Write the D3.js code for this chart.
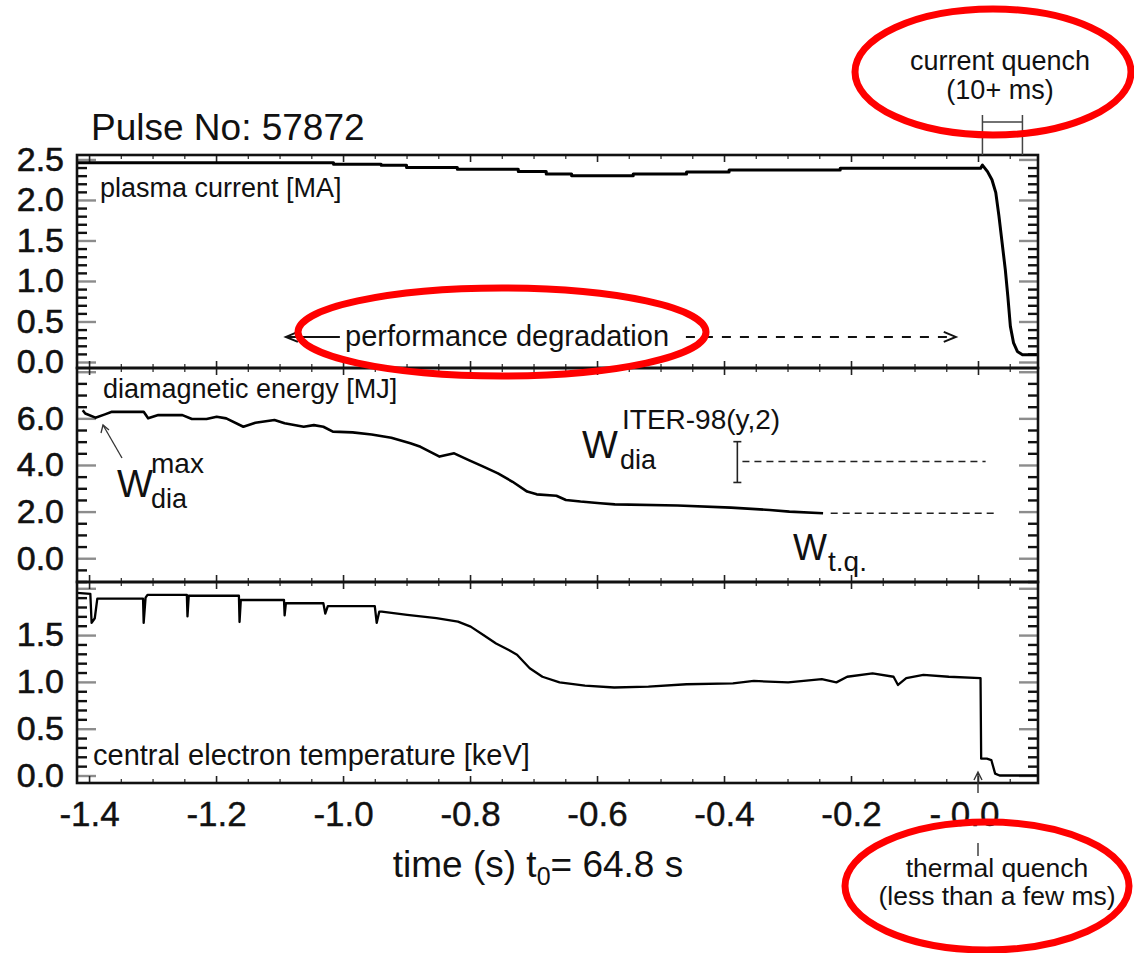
<!DOCTYPE html>
<html>
<head>
<meta charset="utf-8">
<script src="https://cdn.jsdelivr.net/npm/d3@7"></script>
<style>
  body { margin: 0; background: #fff; }
  svg text { font-family: "Liberation Sans", Arial, Helvetica, sans-serif; fill: #111; }
</style>
</head>
<body>
<svg id="chart" width="1134" height="953"></svg>
<script>
// ---- Pulse 57872: time relative to t0 = 64.8 s ----

// plasma current [MA]
const ipTime  = [-1.419, -1.015, -1.015, -0.94, -0.94, -0.90, -0.90, -0.82, -0.82, -0.724, -0.724, -0.68, -0.68, -0.64, -0.64, -0.543, -0.543, -0.459, -0.459, -0.392, -0.392, -0.217, -0.217, 0.004, 0.007, 0.015, 0.022, 0.028, 0.033, 0.038, 0.043, 0.047, 0.051, 0.056, 0.062, 0.070, 0.094];
const ipValue = [2.46, 2.46, 2.44, 2.44, 2.43, 2.43, 2.40, 2.40, 2.38, 2.38, 2.35, 2.35, 2.32, 2.32, 2.30, 2.30, 2.32, 2.32, 2.345, 2.345, 2.37, 2.37, 2.39, 2.39, 2.43, 2.35, 2.25, 2.09, 1.80, 1.47, 1.14, 0.81, 0.44, 0.235, 0.13, 0.09, 0.09];

// diamagnetic energy [MJ]
const wdiaTime  = [-1.410, -1.406, -1.390, -1.375, -1.364, -1.314, -1.307, -1.291, -1.253, -1.238, -1.215, -1.199, -1.184, -1.157, -1.138, -1.108, -1.092, -1.062, -1.046, -1.031, -1.016, -0.985, -0.955, -0.924, -0.894, -0.878, -0.848, -0.825, -0.802, -0.779, -0.756, -0.733, -0.710, -0.695, -0.664, -0.649, -0.626, -0.595, -0.572, -0.473, -0.389, -0.328, -0.297, -0.244];
const wdiaValue = [6.35, 6.21, 6.03, 6.17, 6.28, 6.28, 6.00, 6.14, 6.14, 5.97, 5.97, 6.07, 6.00, 5.64, 5.81, 5.93, 5.79, 5.64, 5.71, 5.64, 5.43, 5.40, 5.31, 5.17, 4.93, 4.78, 4.36, 4.50, 4.21, 3.93, 3.64, 3.28, 2.86, 2.74, 2.68, 2.50, 2.43, 2.36, 2.31, 2.26, 2.17, 2.07, 2.00, 1.93];

// central electron temperature [keV]
const teTime  = [-1.419, -1.398, -1.396, -1.391, -1.387, -1.315, -1.314, -1.311, -1.308, -1.246, -1.245, -1.243, -1.164, -1.163, -1.161, -1.093, -1.092, -1.090, -1.031, -1.028, -1.024, -0.950, -0.947, -0.943, -0.939, -0.899, -0.853, -0.819, -0.799, -0.779, -0.759, -0.739, -0.726, -0.706, -0.686, -0.659, -0.619, -0.573, -0.519, -0.459, -0.386, -0.353, -0.299, -0.246, -0.223, -0.206, -0.166, -0.133, -0.126, -0.113, -0.086, -0.046, 0.004, 0.005, 0.014, 0.021, 0.027, 0.034, 0.094];
const teValue = [1.95, 1.94, 1.63, 1.68, 1.89, 1.89, 1.63, 1.90, 1.93, 1.93, 1.70, 1.92, 1.92, 1.64, 1.875, 1.875, 1.71, 1.84, 1.84, 1.73, 1.81, 1.81, 1.63, 1.75, 1.75, 1.715, 1.68, 1.643, 1.59, 1.50, 1.41, 1.34, 1.29, 1.145, 1.055, 0.995, 0.96, 0.94, 0.95, 0.975, 0.985, 1.01, 0.995, 1.03, 0.995, 1.055, 1.09, 1.055, 0.967, 1.04, 1.075, 1.055, 1.04, 0.18, 0.18, 0.165, 0.02, 0.0, 0.0];

// axis ticks
const xMajorTicks = [-1.4, -1.2, -1.0, -0.8, -0.6, -0.4, -0.2, 0.0];
const xTickLabels = ["-1.4", "-1.2", "-1.0", "-0.8", "-0.6", "-0.4", "-0.2", "- 0.0"];
const ipTicks = [0, 0.5, 1.0, 1.5, 2.0, 2.5];
const ipTickLabels = ["0.0", "0.5", "1.0", "1.5", "2.0", "2.5"];
const wdiaTicks = [0, 2, 4, 6];
const wdiaTickLabels = ["0.0", "2.0", "4.0", "6.0"];
const teTicks = [0, 0.5, 1.0, 1.5];
const teTickLabels = ["0.0", "0.5", "1.0", "1.5"];

// ITER-98(y,2) prediction and energy at the thermal quench
const wIterTime = -0.379, wIterValue = 4.15, wIterLow = 3.25, wIterHigh = 5.0;
const wIterSpan = [-0.371, 0.012];
const wTqValue = 1.93;
const wTqSpan = [-0.232, 0.027];
// quench timings
const currentQuenchWindow = [0.007, 0.070];
const thermalQuenchTime = 0.0;

// ---------------------------------------------------------------
const svg = d3.select("#chart");
const left = 77, right = 1038;
const x = d3.scaleLinear().domain([-1.419, 0.0945]).range([left, right]);

const panels = [
  { top: 155, bottom: 368, domain: [-0.074, 2.555], major: [0, 0.5, 1, 1.5, 2, 2.5], minorStep: 0.1,
    ticks: ipTicks, labels: ipTickLabels, t: ipTime, v: ipValue, width: 3 },
  { top: 368, bottom: 582, domain: [-1.02, 8.16], major: [0, 2, 4, 6, 8], minorStep: 0.5,
    ticks: wdiaTicks, labels: wdiaTickLabels, t: wdiaTime, v: wdiaValue, width: 2.6 },
  { top: 582, bottom: 783, domain: [-0.08, 2.067], major: [0, 0.5, 1, 1.5, 2], minorStep: 0.1,
    ticks: teTicks, labels: teTickLabels, t: teTime, v: teValue, width: 2.3 }
];

const xMinor = d3.range(-28, 2).map(i => +(i * 0.05).toFixed(3)).filter(d => !xMajorTicks.some(m => Math.abs(m - d) < 1e-6));

function styleTicks(g, color, w) {
  g.select(".domain").remove();
  g.selectAll(".tick line").attr("stroke", color).attr("stroke-width", w);
  g.selectAll(".tick text").remove();
}

panels.forEach((p, idx) => {
  const y = d3.scaleLinear().domain(p.domain).range([p.bottom, p.top]);
  p.y = y;
  const lo = Math.ceil(p.domain[0] / p.minorStep), hi = Math.floor(p.domain[1] / p.minorStep);
  const minor = d3.range(lo, hi + 1).map(i => +(i * p.minorStep).toFixed(3))
    .filter(d => !p.major.some(m => Math.abs(m - d) < 1e-6));
  const major = p.major.filter(d => d >= p.domain[0] && d <= p.domain[1]);

  // y ticks, left and right, pointing inwards
  svg.append("g").attr("transform", `translate(${left},0)`)
    .call(d3.axisLeft(y).tickValues(minor).tickSize(-10)).call(g => styleTicks(g, "#111", 2.4));
  svg.append("g").attr("transform", `translate(${left},0)`)
    .call(d3.axisLeft(y).tickValues(major).tickSize(-19)).call(g => styleTicks(g, "#8c8c8c", 2.4));
  svg.append("g").attr("transform", `translate(${right},0)`)
    .call(d3.axisRight(y).tickValues(minor).tickSize(-10)).call(g => styleTicks(g, "#111", 2.4));
  svg.append("g").attr("transform", `translate(${right},0)`)
    .call(d3.axisRight(y).tickValues(major).tickSize(-19)).call(g => styleTicks(g, "#8c8c8c", 2.4));

  // x ticks, top and bottom, pointing inwards
  [[d3.axisTop, p.top], [d3.axisBottom, p.bottom]].forEach(([ax, yy]) => {
    svg.append("g").attr("transform", `translate(0,${yy})`)
      .call(ax(x).tickValues(xMinor).tickSize(-4)).call(g => styleTicks(g, "#333", 1.3));
    svg.append("g").attr("transform", `translate(0,${yy})`)
      .call(ax(x).tickValues(xMajorTicks).tickSize(-7)).call(g => styleTicks(g, "#222", 1.6));
  });

  // y tick labels
  const lab = svg.append("g").attr("transform", `translate(${left},0)`)
    .call(d3.axisLeft(y).tickValues(p.ticks).tickSize(0).tickPadding(13)
      .tickFormat((d, i) => p.labels[i]));
  lab.select(".domain").remove();
  lab.selectAll("text").attr("font-size", 34).attr("fill", "#111")
    .attr("stroke", "#111").attr("stroke-width", 0.6)
    .attr("font-family", '"Liberation Sans", Arial, sans-serif');

  // trace
  const pts = p.t.map((t, i) => [t, p.v[i]]);
  svg.append("path").datum(pts)
    .attr("fill", "none").attr("stroke", "#000").attr("stroke-width", p.width)
    .attr("stroke-linejoin", "round")
    .attr("d", d3.line().x(d => x(d[0])).y(d => y(d[1])));

  // panel frame
  svg.append("rect").attr("x", left).attr("y", p.top)
    .attr("width", right - left).attr("height", p.bottom - p.top)
    .attr("fill", "none").attr("stroke", "#111").attr("stroke-width", 2.6);
});

// x tick labels under the bottom panel
const xl = svg.append("g").attr("transform", `translate(0,${panels[2].bottom})`)
  .call(d3.axisBottom(x).tickValues(xMajorTicks).tickSize(0).tickPadding(18)
    .tickFormat((d, i) => xTickLabels[i]));
xl.select(".domain").remove();
xl.selectAll("text").attr("font-size", 35).attr("fill", "#111")
  .attr("stroke", "#111").attr("stroke-width", 0.4)
  .attr("font-family", '"Liberation Sans", Arial, sans-serif')
  .attr("dx", d => d === 0 ? -14 : 0);

// axis title
const xt = svg.append("text").attr("x", 538).attr("y", 877).attr("text-anchor", "middle").attr("font-size", 37);
xt.append("tspan").text("time (s) t");
xt.append("tspan").attr("font-size", 25).attr("dy", 8).text("0");
xt.append("tspan").attr("dy", -8).text("= 64.8 s");

// title and panel names
svg.append("text").attr("x", 91).attr("y", 140).attr("font-size", 37).text("Pulse No: 57872");
svg.append("text").attr("x", 100).attr("y", 197).attr("font-size", 27).text("plasma current [MA]");
svg.append("text").attr("x", 103).attr("y", 398).attr("font-size", 27).text("diamagnetic energy [MJ]");
svg.append("text").attr("x", 93).attr("y", 765).attr("font-size", 29).text("central electron temperature [keV]");

// performance degradation arrow
const yIp = panels[0].y, yW = panels[1].y, yTe = panels[2].y;
const perfY = yIp(0.31);
svg.append("line").attr("x1", x(-1.09)).attr("x2", x(-1.005)).attr("y1", perfY).attr("y2", perfY)
  .attr("stroke", "#111").attr("stroke-width", 2);
svg.append("path").attr("d", `M${x(-1.09) + 12},${perfY - 5}L${x(-1.09)},${perfY}L${x(-1.09) + 12},${perfY + 5}`)
  .attr("fill", "none").attr("stroke", "#111").attr("stroke-width", 2);
svg.append("text").attr("x", x(-1.0) + 2).attr("y", perfY + 9).attr("font-size", 29).text("performance degradation");
svg.append("line").attr("x1", x(-0.46)).attr("x2", x(-0.037)).attr("y1", perfY).attr("y2", perfY)
  .attr("stroke", "#111").attr("stroke-width", 2).attr("stroke-dasharray", "9,9");
svg.append("path").attr("d", `M${x(-0.035) - 12},${perfY - 5}L${x(-0.035)},${perfY}L${x(-0.035) - 12},${perfY + 5}`)
  .attr("fill", "none").attr("stroke", "#111").attr("stroke-width", 2);

// W_dia^max label with pointer
const wmx = svg.append("g");
wmx.append("line").attr("x1", 122).attr("y1", 458).attr("x2", 103).attr("y2", 425)
  .attr("stroke", "#333").attr("stroke-width", 1.3);
wmx.append("path").attr("d", "M101,433L103,425L109,430").attr("fill", "none").attr("stroke", "#333").attr("stroke-width", 1.3);
wmx.append("text").attr("x", 117).attr("y", 497).attr("font-size", 38).text("W");
wmx.append("text").attr("x", 151).attr("y", 508).attr("font-size", 27).text("dia");
wmx.append("text").attr("x", 151).attr("y", 473).attr("font-size", 28).text("max");

// ITER-98(y,2) prediction with error bar
const ex = x(wIterTime);
svg.append("line").attr("x1", ex).attr("x2", ex).attr("y1", yW(wIterLow)).attr("y2", yW(wIterHigh))
  .attr("stroke", "#222").attr("stroke-width", 1.6);
[wIterLow, wIterHigh].forEach(v => svg.append("line").attr("x1", ex - 4).attr("x2", ex + 4)
  .attr("y1", yW(v)).attr("y2", yW(v)).attr("stroke", "#222").attr("stroke-width", 1.6));
svg.append("line").attr("x1", x(wIterSpan[0])).attr("x2", x(wIterSpan[1]))
  .attr("y1", yW(wIterValue)).attr("y2", yW(wIterValue))
  .attr("stroke", "#222").attr("stroke-width", 1.6).attr("stroke-dasharray", "7,5");
svg.append("line").attr("x1", x(wTqSpan[0])).attr("x2", x(wTqSpan[1]))
  .attr("y1", yW(wTqValue)).attr("y2", yW(wTqValue))
  .attr("stroke", "#222").attr("stroke-width", 1.6).attr("stroke-dasharray", "7,5");
svg.append("text").attr("x", 582).attr("y", 458).attr("font-size", 38).text("W");
svg.append("text").attr("x", 620).attr("y", 469).attr("font-size", 27).text("dia");
svg.append("text").attr("x", 622).attr("y", 429).attr("font-size", 28).text("ITER-98(y,2)");
svg.append("text").attr("x", 793).attr("y", 560).attr("font-size", 36).text("W");
svg.append("text").attr("x", 828).attr("y", 571).attr("font-size", 28).text("t.q.");

// current quench bracket
const cq0 = x(currentQuenchWindow[0]), cq1 = x(currentQuenchWindow[1]);
svg.append("path").attr("d", `M${cq0},${panels[0].top}V115M${cq1},${panels[0].top}V115M${cq0},122H${cq1}`)
  .attr("fill", "none").attr("stroke", "#444").attr("stroke-width", 1.5);
svg.append("text").attr("x", 1000).attr("y", 70).attr("text-anchor", "middle").attr("font-size", 27).text("current quench");
svg.append("text").attr("x", 1000).attr("y", 99).attr("text-anchor", "middle").attr("font-size", 27).text("(10+ ms)");

// thermal quench marker
const tq = x(thermalQuenchTime);
svg.append("path").attr("d", `M${tq},793V772M${tq - 4},780L${tq},772L${tq + 4},780M${tq},843V856`)
  .attr("fill", "none").attr("stroke", "#333").attr("stroke-width", 1.4);
svg.append("text").attr("x", 997).attr("y", 877).attr("text-anchor", "middle").attr("font-size", 26.5).text("thermal quench");
svg.append("text").attr("x", 997).attr("y", 905).attr("text-anchor", "middle").attr("font-size", 26.5).text("(less than a few ms)");

// highlight rings
const rings = svg.append("g").attr("fill", "none").attr("stroke", "#ff0000").attr("stroke-width", 7);
rings.append("ellipse").attr("cx", 502).attr("cy", 332).attr("rx", 204).attr("ry", 44);
rings.append("ellipse").attr("cx", 993).attr("cy", 72).attr("rx", 138).attr("ry", 63);
rings.append("ellipse").attr("cx", 987).attr("cy", 886).attr("rx", 142).attr("ry", 64);
</script>
</body>
</html>
